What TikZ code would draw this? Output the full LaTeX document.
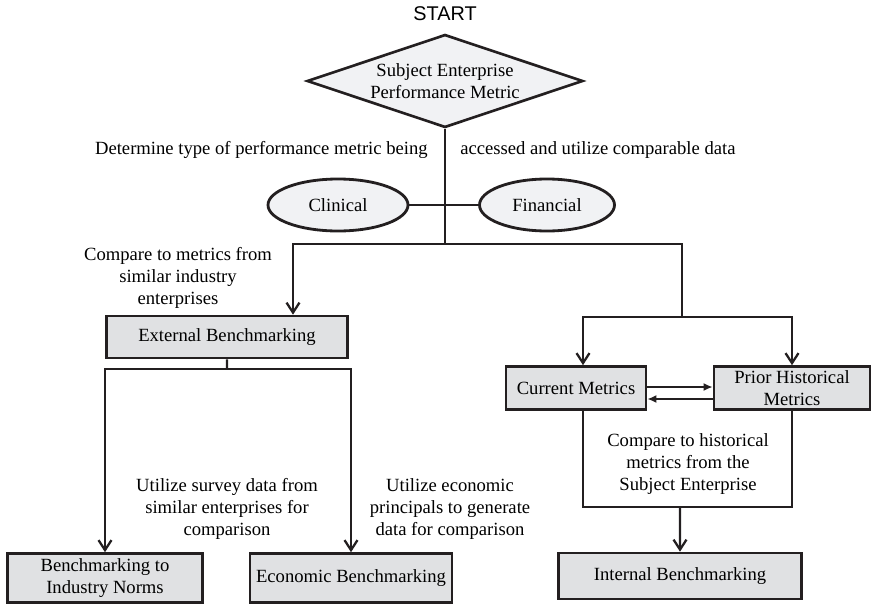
\documentclass[tikz,border=0pt]{standalone}
\usepackage{fontspec}
\setmainfont{Liberation Serif}
\setsansfont{Liberation Sans}
\usepackage{xcolor}
\usetikzlibrary{shapes,arrows.meta}
\usetikzlibrary{positioning}
\definecolor{ink}{RGB}{35,31,32}
\definecolor{boxgray}{RGB}{224,225,227}
\definecolor{palegray}{RGB}{241,242,244}
\tikzstyle{block} = [rectangle, draw=ink, line width=1.5pt, fill=boxgray,
    align=center, inner sep=0pt, minimum height=0.86cm]
\tikzstyle{decision} = [diamond, draw=ink, line width=1.5pt, fill=palegray,
    aspect=3, inner sep=1pt, align=center,
    minimum width=5.52cm, minimum height=1.86cm]
\tikzstyle{choice} = [ellipse, draw=ink, line width=1.6pt, fill=palegray,
    inner sep=0pt, minimum height=1.04cm]
\tikzstyle{note} = [align=center, inner sep=0pt]
\tikzstyle{link} = [draw=ink, line width=1.3pt]
\tikzstyle{line} = [draw=ink, line width=1.3pt, -{Straight Barb[length=2mm,width=2.6mm]}]
\tikzstyle{swap} = [draw=ink, line width=1.2pt, -{Latex[length=1.8mm,width=1.6mm]}]

\begin{document}
\begin{tikzpicture}[font=\rmfamily\fontsize{10.6}{12.5}\selectfont]
  \useasboundingbox (0,0) rectangle (17.42,12.08);
  % Place nodes
  \node [decision] (metric) at (8.90,10.46) {Subject Enterprise\\Performance Metric};
  \node [above of=metric, node distance=1.34cm, font=\sffamily\fontsize{11.3}{13}\selectfont] (start) {START};
  \node [choice, minimum width=2.80cm, below of=metric, node distance=2.48cm, xshift=-2.14cm] (clinical) {Clinical};
  \node [choice, minimum width=2.70cm, right of=clinical, node distance=4.18cm] (financial) {Financial};
  \node [block, minimum width=4.82cm, minimum height=0.84cm, below of=metric, node distance=5.12cm, xshift=-4.36cm] (external) {External Benchmarking};
  \node [block, minimum width=3.90cm, minimum height=0.98cm, below of=external, node distance=4.82cm, xshift=-2.44cm] (norms) {Benchmarking to\\Industry Norms};
  \node [block, minimum width=4.04cm, minimum height=0.98cm, right of=norms, node distance=4.92cm] (economic) {Economic Benchmarking};
  \node [block, minimum width=2.80cm, below of=metric, node distance=6.14cm, xshift=2.62cm] (current) {Current Metrics};
  \node [block, minimum width=3.12cm, right of=current, node distance=4.32cm] (prior) {Prior Historical\\Metrics};
  \node [block, minimum width=4.86cm, minimum height=0.92cm, below of=current, node distance=3.76cm, xshift=2.08cm] (internal) {Internal Benchmarking};

  % Notes beside the edges
  \node [note, anchor=east] (determine) at (8.56,9.08) {Determine type of performance metric being};
  \node [note, anchor=west] (accessed) at (9.20,9.08) {accessed and utilize comparable data};
  \node [note] (similar) at (3.56,6.52) {Compare to metrics from\\similar industry\\enterprises};
  \node [note] (survey) at (4.54,1.90) {Utilize survey data from\\similar enterprises for\\comparison};
  \node [note] (principals) at (9.00,1.90) {Utilize economic\\principals to generate\\data for comparison};
  \node [note] (historical) at (13.76,2.80) {Compare to historical\\metrics from the\\Subject Enterprise};

  % Draw edges
  \coordinate (fork) at (8.90,7.20);
  \coordinate (inner) at (13.64,5.74);
  \coordinate (split) at (4.54,4.70);
  \coordinate (merge) at (13.60,1.94);
  \path [link] (metric.south) -- (fork);
  \path [link] (clinical.east) -- (financial.west);
  \path [line] (fork) -| ([xshift=1.32cm]external.north);
  \path [link] (fork) -| (inner);
  \path [line] (inner) -| ([xshift=0.14cm]current.north);
  \path [line] (inner) -| (prior.north);
  \path [swap] ([yshift=0.02cm]current.east) -- ([yshift=0.02cm]prior.west);
  \path [swap] ([yshift=-0.22cm]prior.west) -- ([yshift=-0.22cm]current.east);
  \path [link] ([xshift=0.14cm]current.south) |- (merge) -| (prior.south);
  \path [line] (merge) -- (internal.north);
  \path [link] (external.south) -- (split);
  \path [line] (split) -| (norms.north);
  \path [line] (split) -| (economic.north);
\end{tikzpicture}
\end{document}
